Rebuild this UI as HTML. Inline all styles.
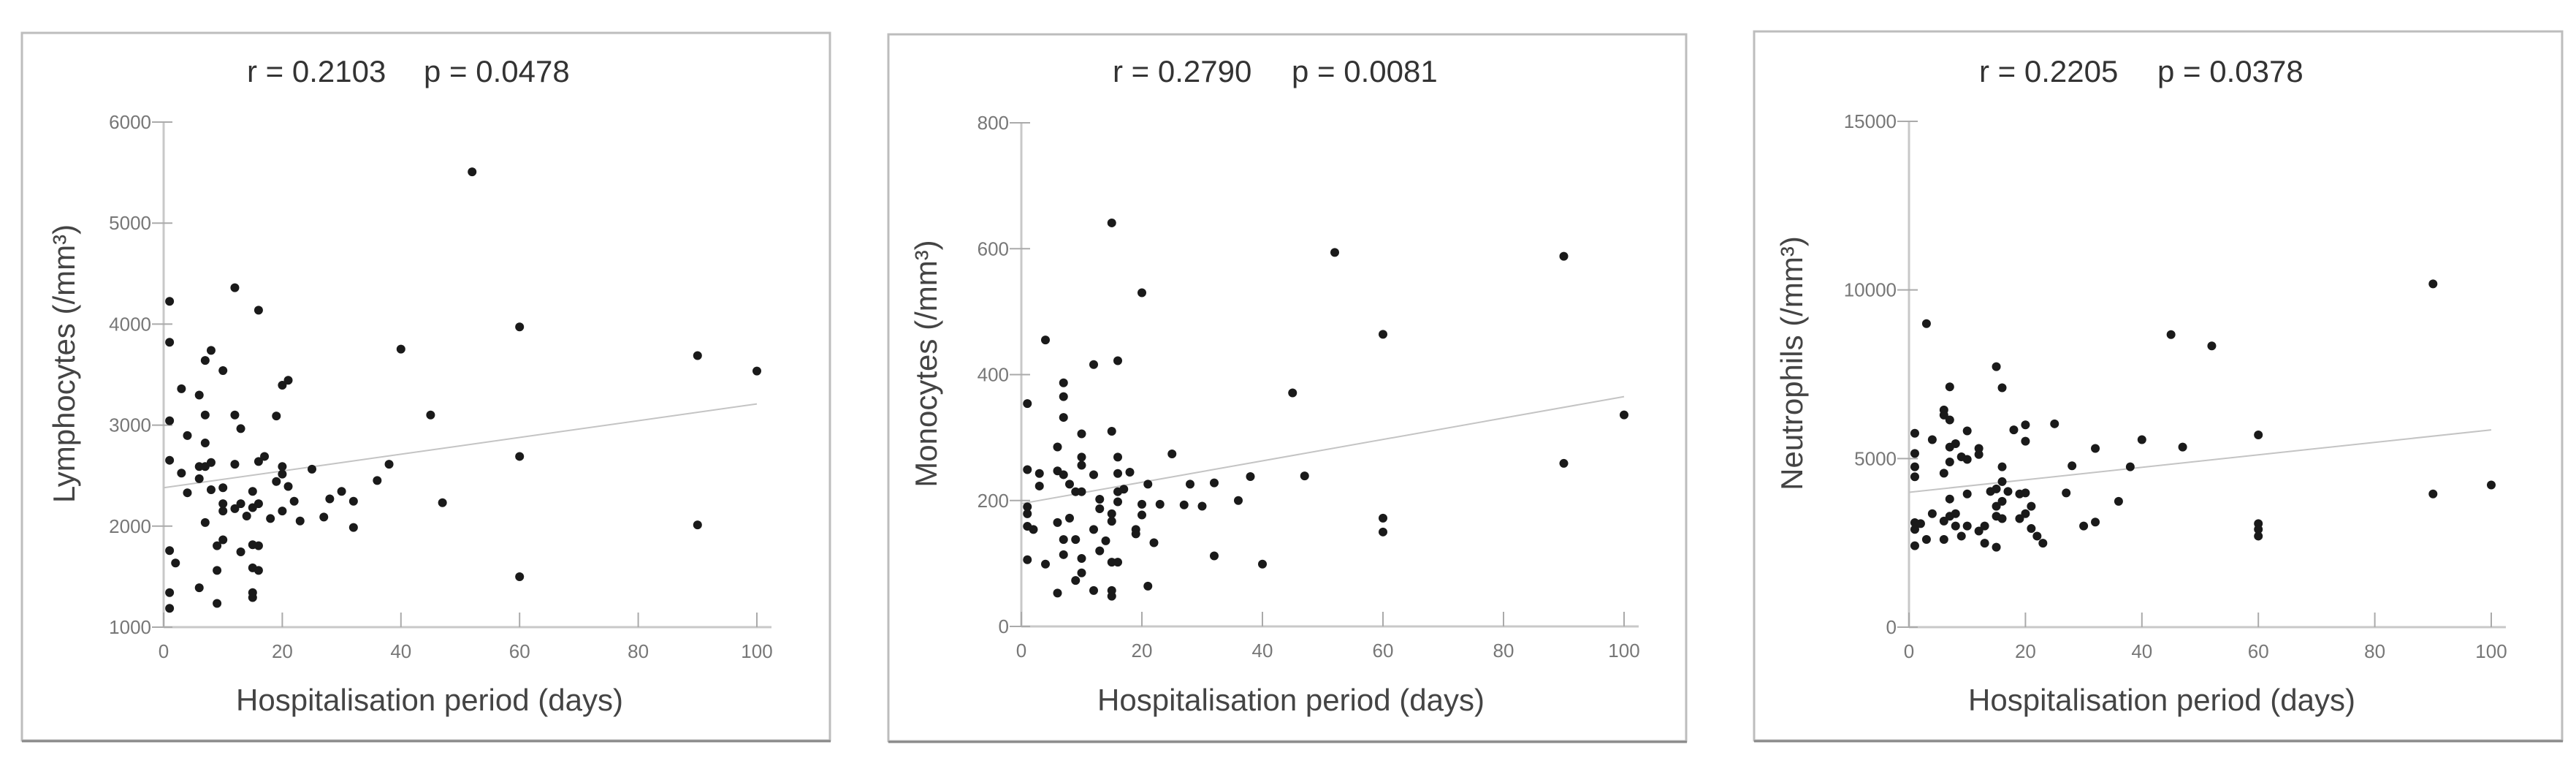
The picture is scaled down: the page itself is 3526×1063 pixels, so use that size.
<!DOCTYPE html>
<html><head><meta charset="utf-8">
<style>
html,body{margin:0;padding:0;background:#fff;}
svg{display:block;}
text{font-family:"Liberation Sans",Arial,sans-serif;}
</style></head>
<body>
<svg id="fig" width="3526" height="1063" viewBox="0 0 3526 1063" xmlns="http://www.w3.org/2000/svg"></svg>
<script>
// ---- Panel 1: Lymphocytes ----
const lymDays = [1,1,1,1,1,2,1,1,3,3,4,4,6,6,6,6,7,7,7,7,7,8,8,8,9,9,9,10,10,10,10,10,12,12,12,12,13,13,13,14,15,15,15,15,15,15,16,16,16,16,16,17,18,19,19,20,20,20,20,21,21,22,23,25,27,28,30,32,32,36,38,40,45,47,52,60,60,60,90,90,100];
const lymValues = [4225,3820,3043,2652,1758,1635,1342,1186,3360,2525,2897,2330,3297,2590,2470,1390,3640,3100,2823,2590,2036,3740,2630,2360,1806,1562,1235,3540,2380,2222,2150,1865,4360,3100,2613,2173,2965,2222,1745,2100,2344,2183,1816,1587,1342,1293,4138,2640,2222,1806,1562,2690,2075,3090,2442,3395,2590,2515,2150,3444,2393,2246,2051,2564,2090,2270,2344,2246,1987,2452,2613,3752,3100,2232,5507,3972,2690,1499,3688,2012,3535];
const lymFit = [2380,3210];
const lymYTicks = [1000,2000,3000,4000,5000,6000];
// ---- Panel 2: Monocytes ----
const monDays = [1,1,1,1,1,1,2,3,3,4,4,6,6,6,6,7,7,7,7,7,7,8,8,9,9,9,10,10,10,10,10,10,12,12,12,12,13,13,13,14,15,15,15,15,15,15,15,16,16,16,16,16,16,17,18,19,19,20,20,20,21,21,22,23,25,27,28,30,32,32,36,38,40,45,47,52,60,60,60,90,90,100];
const monValues = [354,249,190,179,159,106,154,243,223,455,99,285,247,165,53,387,365,332,241,138,114,226,172,214,138,73,306,269,256,214,108,85,416,241,154,57,202,187,120,136,641,310,179,167,102,57,48,422,269,243,214,198,102,218,245,154,147,530,194,177,226,64,133,194,274,193,226,191,228,112,200,238,99,371,239,594,464,172,150,588,259,336];
const monFit = [195,365];
const monYTicks = [0,200,400,600,800];
// ---- Panel 3: Neutrophils ----
const neuDays = [1,1,1,1,1,1,1,2,3,3,4,4,6,6,6,6,6,7,7,7,7,7,7,8,8,8,9,9,10,10,10,10,12,12,12,13,13,14,15,15,15,15,15,16,16,16,16,16,17,18,19,19,20,20,20,20,21,21,22,23,25,27,28,30,32,32,36,38,40,45,47,52,60,60,60,60,90,90,100];
const neuValues = [5750,5150,4755,4460,3100,2900,2415,3070,9000,2600,5560,3365,6440,6290,4565,3145,2600,7125,6145,5340,4900,3800,3290,5440,3365,3000,5050,2700,5820,4975,3950,3000,5300,5120,2850,3000,2490,4025,7725,2370,4100,3585,3290,7100,4755,4315,3730,3220,4025,5850,3950,3220,6000,5515,3980,3365,3585,2925,2700,2490,6030,3980,4785,3000,3115,5300,3730,4755,5560,8675,5340,8340,5700,3070,2900,2700,10180,3950,4215];
const neuFit = [4000,5850];
const neuYTicks = [0,5000,10000,15000];
const xTicks = [0,20,40,60,80,100];

const NS = "http://www.w3.org/2000/svg";
const svg = document.getElementById('fig');
function mk(tag, attrs, parent){
  const e = document.createElementNS(NS, tag);
  for (const k in attrs) e.setAttribute(k, attrs[k]);
  (parent||svg).appendChild(e);
  return e;
}

const panels = [
  {key:'lymphocytes', box:[30,45,1136,1013], ax:224, x100:1036, yTop:167, yBot:858, ymin:1000, ymax:6000,
   days:lymDays, vals:lymValues, fit:lymFit, ticks:lymYTicks, ylab:'Lymphocytes (/mm³)', ylx:102,
   r:'r = 0.2103', p:'p = 0.0478', rx:338, px:580},
  {key:'monocytes', box:[1216,47,2308,1014], ax:1398, x100:2223, yTop:168, yBot:857, ymin:0, ymax:800,
   days:monDays, vals:monValues, fit:monFit, ticks:monYTicks, ylab:'Monocytes (/mm³)', ylx:1282,
   r:'r = 0.2790', p:'p = 0.0081', rx:1523, px:1768},
  {key:'neutrophils', box:[2401,43,3507,1013], ax:2613, x100:3410, yTop:166, yBot:858, ymin:0, ymax:15000,
   days:neuDays, vals:neuValues, fit:neuFit, ticks:neuYTicks, ylab:'Neutrophils (/mm³)', ylx:2467,
   r:'r = 0.2205', p:'p = 0.0378', rx:2709, px:2953}
];

panels.forEach(P => {
  const g = mk('g', {});
  
  
  const xs = v => P.ax + (v/100)*(P.x100 - P.ax);
  const ys = v => P.yBot - (v - P.ymin)/(P.ymax - P.ymin)*(P.yBot - P.yTop);
  const [L,T,R,B] = P.box;
  // frame
  const fr = mk('rect', {x:L, y:T, width:R-L, height:B-T, fill:'#fff', stroke:'#bdbdbd', 'stroke-width':3}, g);
  
  
  const fb = mk('line', {x1:L, y1:B+1, x2:R+1, y2:B+1, stroke:'#888', 'stroke-width':3}, g);
  
  
  // title
  const t1 = mk('text', {x:P.rx, y:112, 'font-size':42, fill:'#333'}, g);
  t1.textContent = P.r;
  
  
  const t2 = mk('text', {x:P.px, y:112, 'font-size':42, fill:'#333'}, g);
  t2.textContent = P.p;
  
  
  // axes
  const ya = mk('line', {x1:P.ax, y1:P.yTop, x2:P.ax, y2:P.yBot, stroke:'#c8c8c8', 'stroke-width':3}, g);
  
  
  const xa = mk('line', {x1:P.ax, y1:P.yBot, x2:P.x100 + 20, y2:P.yBot, stroke:'#c8c8c8', 'stroke-width':3}, g);
  
  
  P.ticks.forEach(v => {
    const y = ys(v);
    const tk = mk('line', {x1:P.ax-16, y1:y, x2:P.ax+12, y2:y, stroke:'#aaa', 'stroke-width':2}, g);
    
    
    const tl = mk('text', {x:P.ax-17, y:y+9, 'font-size':26, fill:'#777', 'text-anchor':'end'}, g);
    tl.textContent = v;
    
    
  });
  xTicks.forEach(v => {
    const x = xs(v);
    const tk = mk('line', {x1:x, y1:P.yBot-20, x2:x, y2:P.yBot, stroke:'#aaa', 'stroke-width':2}, g);
    
    
    const tl = mk('text', {x:x, y:P.yBot+42, 'font-size':26, fill:'#777', 'text-anchor':'middle'}, g);
    tl.textContent = v;
    
    
  });
  // axis titles
  const xl = mk('text', {x:(L+R)/2 + 5, y:972, 'font-size':42, fill:'#444', 'text-anchor':'middle'}, g);
  xl.textContent = 'Hospitalisation period (days)';
  
  
  const yc = (P.yTop + P.yBot)/2 - 15;
  const yl = mk('text', {x:P.ylx, y:yc, 'font-size':42, fill:'#444', 'text-anchor':'middle', transform:'rotate(-90 '+P.ylx+' '+yc+')'}, g);
  yl.textContent = P.ylab;
  
  
  // regression line
  const rl = mk('line', {x1:xs(0), y1:ys(P.fit[0]), x2:xs(100), y2:ys(P.fit[1]), stroke:'#c4c4c4', 'stroke-width':2}, g);
  
  
  // points
  P.days.forEach((d, i) => {
    const c = mk('circle', {cx:xs(d), cy:ys(P.vals[i]), r:6, fill:'#1a1a1a'}, g);
    
    
  });
});
</script>
</body></html>
